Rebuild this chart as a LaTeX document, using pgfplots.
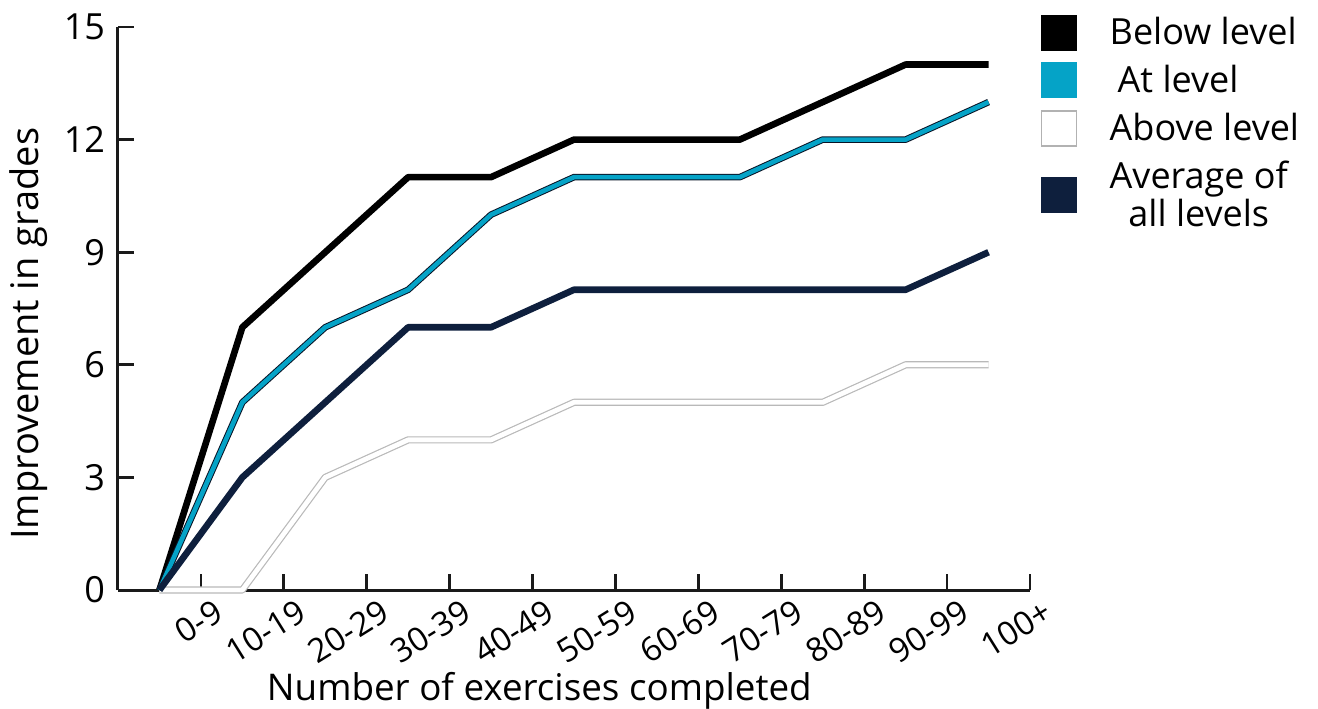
\documentclass[border=0pt]{standalone}
\usepackage{pgfplots}
\pgfplotsset{compat=1.18}
\usepackage{fontspec}
\setmainfont{Open Sans}
\definecolor{atlev}{HTML}{05A3C7}
\definecolor{avglev}{HTML}{0E1F3D}
\definecolor{axcol}{HTML}{1A1A1A}
\begin{document}
\begin{tikzpicture}
\begin{axis}[
  at={(0,0)}, anchor=south west,
  scale only axis, width=456pt, height=281.5pt,
  xmin=-0.5, xmax=10.5, ymin=0, ymax=15,
  axis lines*=left,
  axis line style={line width=1.5pt, axcol},
  xtick={0.5,1.5,2.5,3.5,4.5,5.5,6.5,7.5,8.5,9.5,10.5},
  xticklabels={0-9,10-19,20-29,30-39,40-49,50-59,60-69,70-79,80-89,90-99,100+},
  ytick={0,3,6,9,12,15},
  tick style={line width=1.4pt, axcol},
  tick align=inside, major tick length=8pt,
  /pgf/number format/assume math mode=true,
  yticklabel style={font=\fontsize{18}{20}\selectfont, xshift=-3pt},
  xticklabel style={font=\fontsize{16.5}{18}\selectfont, anchor=east, xshift=12pt, yshift=-7.5pt, rotate=32},
  xlabel={Number of exercises completed},
  ylabel={Improvement in grades},
  xlabel style={font=\fontsize{18.4}{20}\selectfont, at={(axis description cs:0.462,-0.179)}, anchor=center},
  ylabel style={font=\fontsize{19}{21}\selectfont, at={(axis description cs:-0.098,0.455)}, anchor=center},
  legend style={draw=none, fill=none, at={(1.0045,1.03)}, anchor=north west,
    font=\fontsize{18}{19}\selectfont, nodes={align=center, inner ysep=1pt, inner xsep=0pt}, row sep=6pt},
  legend cell align=left,
  clip=false,
]
\addlegendimage{legend image code/.code={\draw[fill=black,draw=black] (0pt,-8.75pt) rectangle (17.5pt,8.75pt); \path (34pt,0pt);}}
\addlegendentry{Below level}
\addlegendimage{legend image code/.code={\draw[fill=atlev,draw=atlev] (0pt,-8.75pt) rectangle (17.5pt,8.75pt); \path (34pt,0pt);}}
\addlegendentry{\hspace{4pt}At level}
\addlegendimage{legend image code/.code={\draw[fill=white,draw=gray!60,line width=0.8pt] (0pt,-8.75pt) rectangle (17.5pt,8.75pt); \path (34pt,0pt);}}
\addlegendentry{Above level}
\addlegendimage{legend image code/.code={\draw[fill=avglev,draw=avglev] (0pt,-8.75pt) rectangle (17.5pt,8.75pt); \path (34pt,0pt);}}
\addlegendentry{Average of\\all levels}

\addplot[forget plot, draw=gray!55, line width=0.6pt, double=white, double distance=2.4pt, line join=round]
  coordinates {(0,0) (1,0) (2,3) (3,4) (4,4) (5,5) (6,5) (7,5) (8,5) (9,6) (10,6)};
\addplot[forget plot, black, line width=3.3pt, line join=round]
  coordinates {(0,0) (1,7) (2,9) (3,11) (4,11) (5,12) (6,12) (7,12) (8,13) (9,14) (10,14)};
\addplot[forget plot, avglev!60!black, line width=3.3pt, line join=round]
  coordinates {(0,0) (1,5) (2,7) (3,8) (4,10) (5,11) (6,11) (7,11) (8,12) (9,12) (10,13)};
\addplot[forget plot, atlev, line width=2.3pt, line join=round]
  coordinates {(0,0) (1,5) (2,7) (3,8) (4,10) (5,11) (6,11) (7,11) (8,12) (9,12) (10,13)};
\addplot[forget plot, avglev, line width=3.3pt, line join=round]
  coordinates {(0,0) (1,3) (2,5) (3,7) (4,7) (5,8) (6,8) (7,8) (8,8) (9,8) (10,9)};
\end{axis}
\pgfresetboundingbox
\useasboundingbox (-59pt,-59pt) rectangle (600pt,295pt);
\end{tikzpicture}
\end{document}
